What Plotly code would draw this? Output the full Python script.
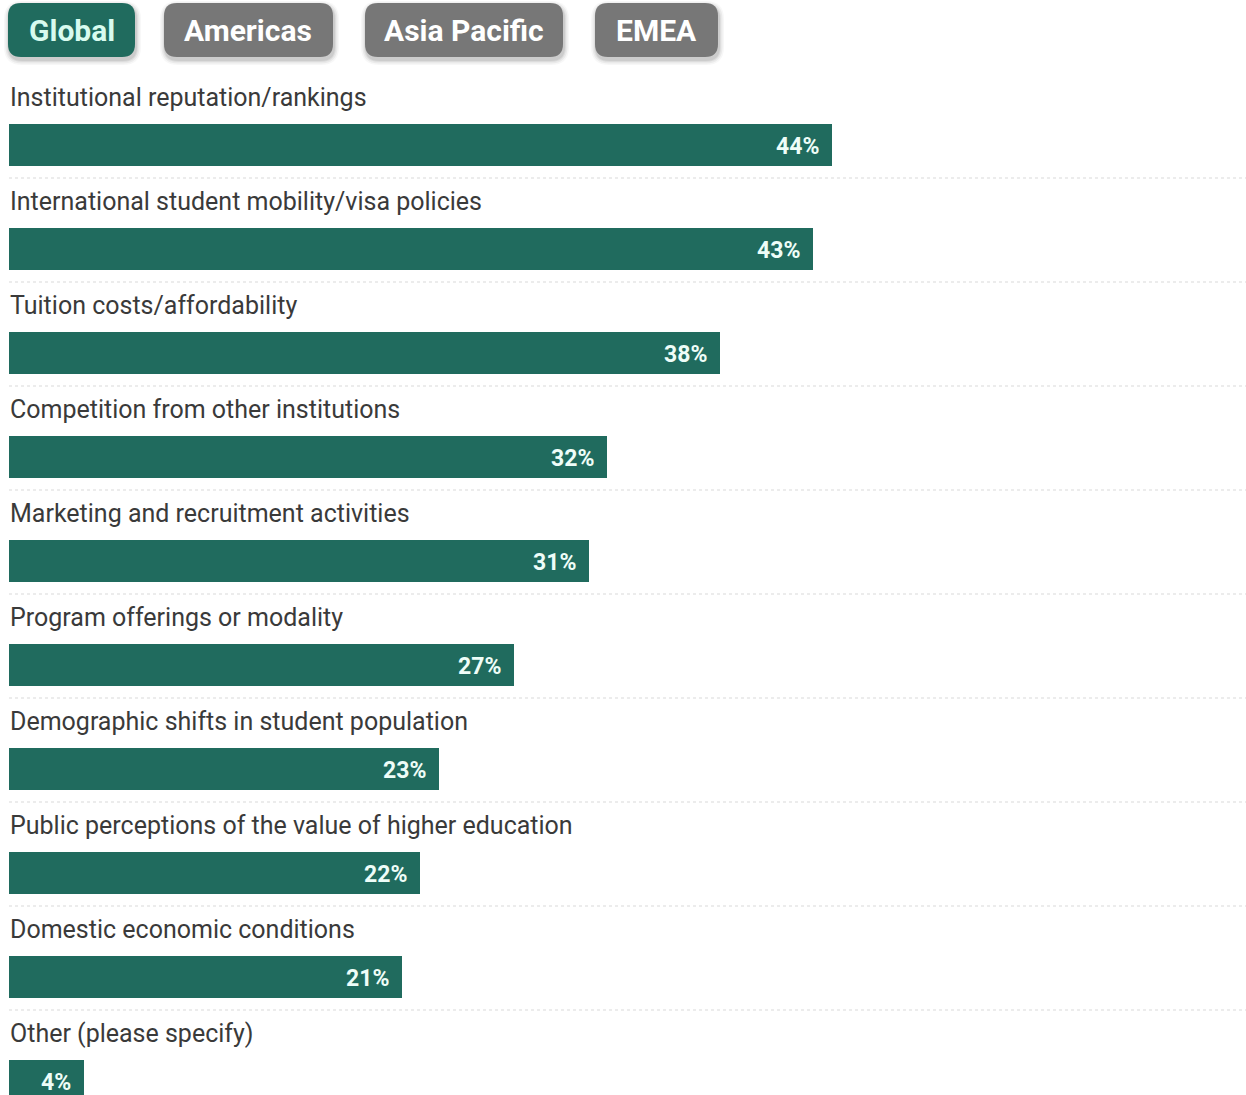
import plotly.graph_objects as go

# Survey results: share of respondents citing each factor (Global view)
categories = [
    "Institutional reputation/rankings",
    "International student mobility/visa policies",
    "Tuition costs/affordability",
    "Competition from other institutions",
    "Marketing and recruitment activities",
    "Program offerings or modality",
    "Demographic shifts in student population",
    "Public perceptions of the value of higher education",
    "Domestic economic conditions",
    "Other (please specify)",
]
values = [44, 43, 38, 32, 31, 27, 23, 22, 21, 4]
region_tabs = ["Global", "Americas", "Asia Pacific", "EMEA"]

W, H = 1246, 1095
BAR_COLOR = "#206b5e"
TAB_GREY = "#777777"
FONT = "Roboto, Arial, sans-serif"

# Pixel layout helpers
PX_PER_PCT = 18.7
LEFT_PX = 9
ROW_PX = 104
FIRST_CENTER_PX = 145
BAR_PX = 42

x_range = [-LEFT_PX / PX_PER_PCT, (W - LEFT_PX) / PX_PER_PCT]
y_range = [(H - FIRST_CENTER_PX) / ROW_PX, -FIRST_CENTER_PX / ROW_PX]

idx = list(range(len(categories)))

fig = go.Figure()
fig.add_trace(go.Bar(
    x=values,
    y=idx,
    orientation="h",
    width=BAR_PX / ROW_PX,
    marker=dict(color=BAR_COLOR, line=dict(width=0)),
    hoverinfo="skip",
))

shapes = []
annotations = []

for i, (cat, v) in enumerate(zip(categories, values)):
    # value label just inside the end of the bar
    annotations.append(dict(
        x=v, y=i, xref="x", yref="y",
        text=f"{v}%", showarrow=False, xanchor="right", yanchor="middle",
        xshift=-11, yshift=-1,
        font=dict(family=FONT, size=23, color="#eefdf8", weight="bold"),
    ))
    # category label above the bar
    annotations.append(dict(
        x=0, y=i - 48 / ROW_PX, xref="x", yref="y",
        text=cat, showarrow=False, xanchor="left", yanchor="middle",
        xshift=-1,
        font=dict(family=FONT, size=25, color="#3a3a3a"),
    ))
    # dotted separator below the row
    if i < len(categories) - 1:
        shapes.append(dict(
            type="line", xref="x", yref="y",
            x0=0, x1=x_range[1], y0=i + 33 / ROW_PX, y1=i + 33 / ROW_PX,
            line=dict(color="#d9d9d9", width=1.2, dash="dot"),
            layer="below",
        ))


def rounded_rect(x0, y0, x1, y1, r):
    """SVG path for a rounded rectangle in pixel units mapped to paper coords."""
    def p(x, y):
        return f"{x / W:.5f},{1 - y / H:.5f}"
    return (
        f"M {p(x0 + r, y0)} L {p(x1 - r, y0)} Q {p(x1, y0)} {p(x1, y0 + r)} "
        f"L {p(x1, y1 - r)} Q {p(x1, y1)} {p(x1 - r, y1)} "
        f"L {p(x0 + r, y1)} Q {p(x0, y1)} {p(x0, y1 - r)} "
        f"L {p(x0, y0 + r)} Q {p(x0, y0)} {p(x0 + r, y0)} Z"
    )


# Region selector tabs
tab_boxes = [(8, 135), (164, 333), (365, 563), (595, 718)]
for k, (name, (bx0, bx1)) in enumerate(zip(region_tabs, tab_boxes)):
    active = k == 0
    # soft drop shadow
    for s, a in [(5, 0.03), (3.5, 0.05), (2, 0.06), (1, 0.07)]:
        shapes.append(dict(
            type="path", xref="paper", yref="paper",
            path=rounded_rect(bx0 - s + 1, 3 - s + 3, bx1 + s + 1, 57 + s + 3, 13 + s),
            fillcolor=f"rgba(0,0,0,{a})", line=dict(width=0), layer="above",
        ))
    shapes.append(dict(
        type="path", xref="paper", yref="paper",
        path=rounded_rect(bx0, 3, bx1, 57, 13),
        fillcolor=BAR_COLOR if active else TAB_GREY,
        line=dict(width=0), layer="above",
    ))
    annotations.append(dict(
        x=(bx0 + bx1) / 2 / W, y=1 - 30 / H, xref="paper", yref="paper",
        text=name, showarrow=False, xanchor="center", yanchor="middle",
        font=dict(family=FONT, size=30, weight="bold",
                  color="#d8fbef" if active else "#ffffff"),
    ))

fig.update_layout(
    width=W, height=H,
    margin=dict(l=0, r=0, t=0, b=0),
    paper_bgcolor="white", plot_bgcolor="white",
    showlegend=False,
    bargap=0,
    xaxis=dict(range=x_range, visible=False, fixedrange=True),
    yaxis=dict(range=y_range, visible=False, fixedrange=True),
    shapes=shapes,
    annotations=annotations,
)

fig.write_html("out.html", config={"displayModeBar": False})
